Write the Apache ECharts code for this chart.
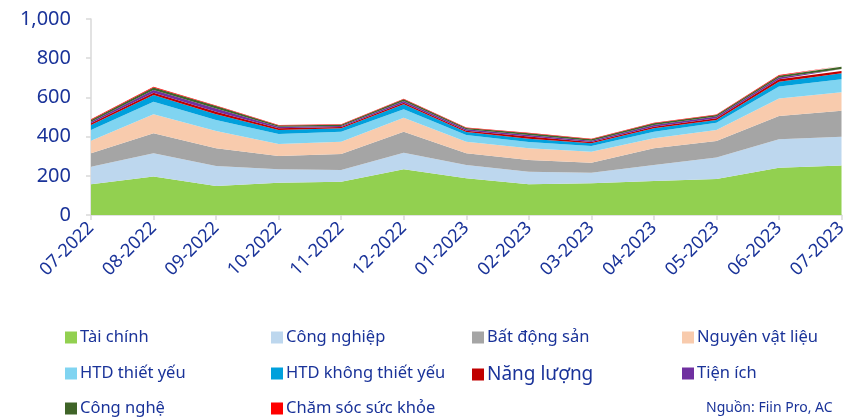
<!DOCTYPE html>
<html>
<head>
<meta charset="utf-8">
<script src="https://cdn.jsdelivr.net/npm/echarts@6/dist/echarts.min.js"></script>
<style>
  html, body { margin: 0; padding: 0; background: #fff; }
  #chart { width: 850px; height: 418px; }
</style>
</head>
<body>
<div id="chart"></div>
<script>
// thang
var months = ['07-2022', '08-2022', '09-2022', '10-2022', '11-2022', '12-2022',
  '01-2023', '02-2023', '03-2023', '04-2023', '05-2023', '06-2023', '07-2023'];

var taiChinh     = [157, 196, 148, 165, 170, 233, 187, 157, 162, 173, 184, 241, 252];
var congNghiep   = [ 89, 119, 102,  68,  60,  85,  68,  64,  54,  82, 110, 145, 147];
var batDongSan   = [ 69, 102,  90,  68,  81, 107,  60,  60,  51,  85,  84, 119, 133];
var nguyenVatLieu= [ 64,  97,  89,  61,  63,  71,  59,  59,  56,  51,  56,  90,  94];
var htdThietYeu  = [ 55,  64,  56,  51,  51,  43,  34,  32,  29,  34,  37,  60,  66];
var htdKhongTY   = [ 25,  34,  29,  21,  17,  26,  15,  17,  14,  17,  14,  25,  31];
var nangLuong    = [  9,  12,  13,   8,   7,   8,   7,  11,   6,   8,   8,  12,  12];
var tienIch      = [  8,  14,  17,   8,   5,   9,   7,   8,   7,   9,   9,   9,  10];
var congNghe     = [  9,  13,  12,   7,   7,   8,   7,   9,   7,   9,   8,  10,  12];
var chamSoc      = [  3,   3,   3,   2,   2,   3,   3,   3,   3,   3,   3,   3,   3];

var yTicks = [0, 200, 400, 600, 800, 1000];

var names = ['Tài chính', 'Công nghiệp', 'Bất động sản', 'Nguyên vật liệu',
  'HTD thiết yếu', 'HTD không thiết yếu', 'Năng lượng', 'Tiện ích',
  'Công nghệ', 'Chăm sóc sức khỏe'];
var datas = [taiChinh, congNghiep, batDongSan, nguyenVatLieu, htdThietYeu,
  htdKhongTY, nangLuong, tienIch, congNghe, chamSoc];
var colors = ['#92D050', '#BDD7EE', '#A5A5A5', '#F8CBAD', '#80D4F1',
  '#00A0DC', '#C00000', '#7030A0', '#3F6428', '#FF0000'];

var navy = '#1A3399';
var font = 'Noto Sans';

var series = names.map(function(n, i) {
  return {
    name: n,
    type: 'line',
    stack: 'total',
    showSymbol: false,
    lineStyle: { width: 0 },
    areaStyle: { color: colors[i], opacity: 1 },
    itemStyle: { color: colors[i] },
    data: datas[i]
  };
});

// chu giai xep theo luoi 4 cot
var colX = [60, 266, 467, 677];
var rowY = [324, 360, 395];
var legends = names.map(function(n, i) {
  return {
    data: [n],
    left: colX[i % 4],
    top: rowY[Math.floor(i / 4)],
    itemWidth: 12,
    itemHeight: 12,
    itemGap: 4,
    icon: 'rect',
    selectedMode: false,
    textStyle: { color: navy, fontSize: n === 'Năng lượng' ? 19 : 16.5, fontFamily: font, padding: [0, 0, 0, -2] }
  };
});

var chart = echarts.init(document.getElementById('chart'));
chart.setOption({
  animation: false,
  color: colors,
  grid: { left: 91, right: 3, top: 19, bottom: 203, containLabel: false },
  legend: legends,
  xAxis: {
    type: 'category',
    boundaryGap: false,
    data: months,
    axisLine: { lineStyle: { color: '#D9D9D9', width: 1.5 } },
    axisTick: { show: true, alignWithLabel: true, length: 5, lineStyle: { color: '#D9D9D9', width: 1.5 } },
    axisLabel: { rotate: 45, interval: 0, color: navy, fontSize: 18, fontFamily: font, margin: 10 }
  },
  yAxis: {
    type: 'value',
    min: yTicks[0],
    max: yTicks[yTicks.length - 1],
    interval: 200,
    axisLine: { show: true, lineStyle: { color: '#D9D9D9', width: 1.5 } },
    axisTick: { show: true, length: 5, lineStyle: { color: '#D9D9D9', width: 1.5 } },
    splitLine: { show: false },
    axisLabel: {
      color: navy, fontSize: 20, fontFamily: font, margin: 20,
      formatter: function(v) { return v.toLocaleString('en-US'); }
    }
  },
  graphic: [{
    type: 'text',
    left: 706,
    top: 401,
    style: { text: 'Nguồn: Fiin Pro, AC', fill: navy, fontSize: 14, fontFamily: font }
  }],
  series: series
});
</script>
</body>
</html>
